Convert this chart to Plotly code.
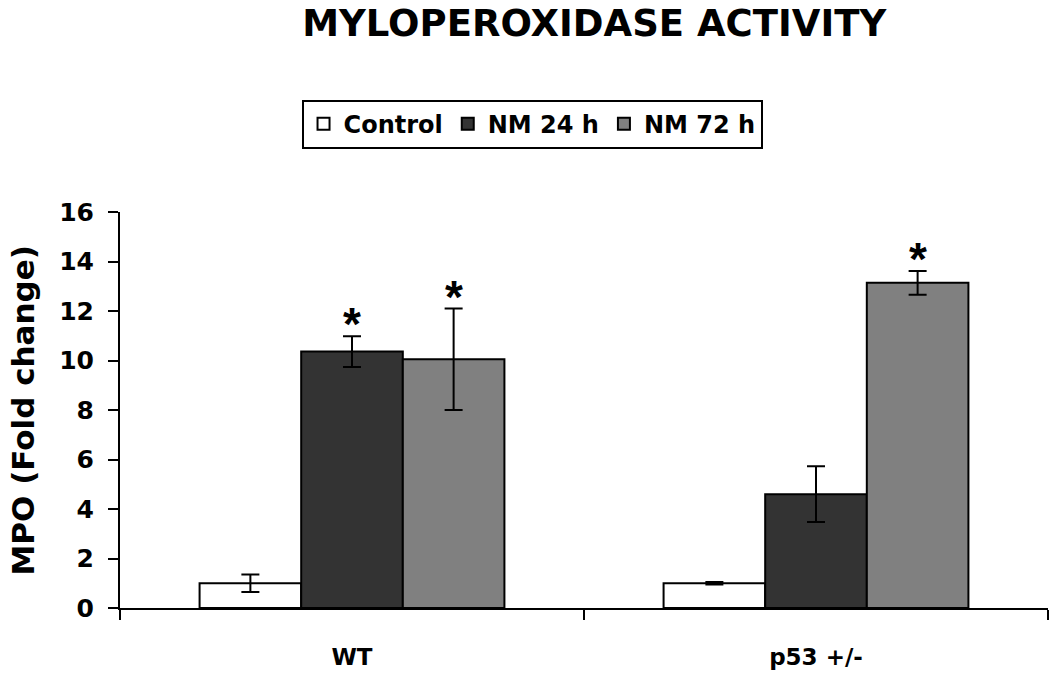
import plotly.graph_objects as go

groups = ["WT", "p53 +/-"]
series = ["Control", "NM 24 h", "NM 72 h"]
colors = ["#ffffff", "#333333", "#808080"]
values = {
    "Control": [1.0, 1.0],
    "NM 24 h": [10.36, 4.6],
    "NM 72 h": [10.05, 13.14],
}
errors = {
    "Control": [0.35, 0.05],
    "NM 24 h": [0.62, 1.13],
    "NM 72 h": [2.05, 0.48],
}
significant = {
    "Control": [False, False],
    "NM 24 h": [True, False],
    "NM 72 h": [True, True],
}
y_ticks = [0, 2, 4, 6, 8, 10, 12, 14, 16]

FONT = "DejaVu Sans, Verdana, sans-serif"
AST_FONT = "Liberation Sans, Arial, sans-serif"
bargap = 0.343
fig = go.Figure()
for s, c in zip(series, colors):
    fig.add_trace(go.Bar(
        name=s, x=groups, y=values[s], marker=dict(color=c, line=dict(color="black", width=2)),
        error_y=dict(type="data", array=errors[s], visible=True, color="black", thickness=2, width=9),
    ))

bw = (1 - bargap) / len(series)
for i, s in enumerate(series):
    off = (i - (len(series) - 1) / 2) * bw
    for g in range(len(groups)):
        if significant[s][g]:
            fig.add_annotation(x=g + off, y=values[s][g] + errors[s][g], text="<b>*</b>",
                               showarrow=False, yanchor="bottom", yshift=-16,
                               font=dict(size=46, family=AST_FONT, color="black"))

# y-axis title
fig.add_annotation(xref="paper", yref="paper", x=-0.105, y=0.5, text="<b>MPO (Fold change)</b>",
                   textangle=-90, showarrow=False, xanchor="center", yanchor="middle",
                   font=dict(size=31, family=FONT, color="black"))

fig.update_layout(
    width=1050, height=674,
    barmode="group", bargap=bargap, bargroupgap=0,
    plot_bgcolor="white", paper_bgcolor="white",
    margin=dict(l=120, r=2, t=212, b=66, autoexpand=False),
    font=dict(family=FONT, color="black"),
    title=dict(text="<b>MYLOPEROXIDASE ACTIVITY</b>", x=0.511, xanchor="center", xref="paper",
               y=1 - 23 / 674, yanchor="middle", font=dict(size=37, family=FONT, color="black")),
    legend=dict(orientation="h", x=0.444, xanchor="center", y=1.222, yanchor="middle",
                bordercolor="black", borderwidth=2,
                font=dict(size=24, family=FONT, color="black", weight="bold"),
                traceorder="normal", itemclick=False, itemwidth=30),
    showlegend=True,
)
fig.update_xaxes(
    type="category", range=[-0.5, 1.5], showline=True, linecolor="black", linewidth=2,
    ticks="outside", tickson="boundaries", ticklen=10, tickwidth=2, tickcolor="black",
    tickfont=dict(size=23, family=FONT, color="black"), automargin=False, ticklabelstandoff=27,
    tickvals=groups, ticktext=["<b>%s</b>" % g for g in groups], showgrid=False,
)
fig.update_yaxes(
    range=[0, 16], tickvals=y_ticks, ticktext=["<b>%d</b>" % t for t in y_ticks],
    showline=True, linecolor="black", linewidth=2, ticks="outside", ticklen=10, tickwidth=2,
    tickcolor="black", tickfont=dict(size=25, family=FONT, color="black"), showgrid=False,
    zeroline=False, automargin=False, ticklabelstandoff=9,
)
fig.write_html("out.html", config={"displayModeBar": False},
               post_script="document.body.style.margin='0';")
